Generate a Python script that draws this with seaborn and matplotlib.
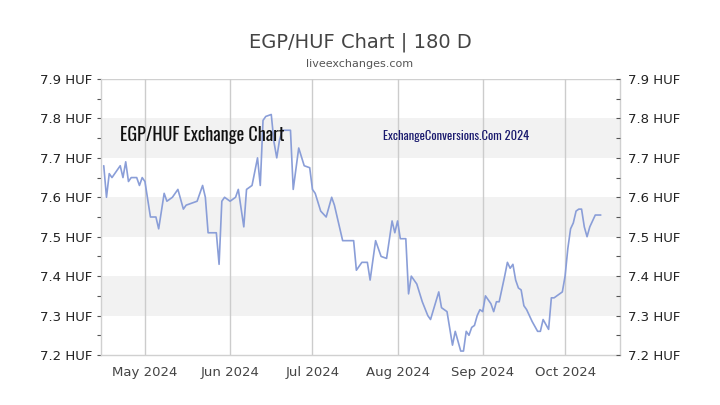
import numpy as np
import pandas as pd
import matplotlib
matplotlib.use("Agg")
import matplotlib.pyplot as plt
import matplotlib.dates as mdates
from matplotlib.ticker import MultipleLocator
import seaborn as sns

# ---- data ----
start_date = "2024-04-16"
day_offsets = [0, 1, 2, 3, 4, 6, 7, 8, 9, 10, 12, 13, 14, 15, 17, 19, 20, 22, 23, 25,
               27, 29, 30, 32, 34, 36, 37, 38, 41, 42, 43, 44, 46, 48, 49, 51, 52, 54, 56, 57,
               58, 59, 61, 62, 63, 64, 65, 68, 69, 71, 73, 75, 76, 77, 79, 81, 83, 84, 87, 89,
               91, 92, 94, 96, 97, 99, 101, 103, 105, 106, 107, 108, 110, 111, 112, 114, 116, 118, 119, 122,
               123, 125, 127, 128, 130, 131, 132, 133, 134, 135, 136, 137, 138, 139, 141, 142, 143, 144, 146, 147,
               148, 149, 150, 151, 152, 153, 154, 156, 158, 159, 160, 162, 163, 164, 166, 167, 168, 169, 170, 171,
               172, 173, 174, 175, 176, 177, 178, 179, 181]
rates = [7.68, 7.60, 7.66, 7.65, 7.66, 7.68, 7.65, 7.69, 7.64, 7.65, 7.65, 7.63, 7.65, 7.64, 7.55, 7.55, 7.52, 7.61, 7.59, 7.60,
         7.62, 7.57, 7.58, 7.585, 7.59, 7.63, 7.60, 7.51, 7.51, 7.43, 7.59, 7.60, 7.59, 7.60, 7.62, 7.525, 7.62, 7.63, 7.70, 7.63,
         7.795, 7.805, 7.81, 7.74, 7.70, 7.745, 7.77, 7.77, 7.62, 7.725, 7.68, 7.675, 7.62, 7.61, 7.565, 7.55, 7.60, 7.58, 7.49, 7.49,
         7.49, 7.415, 7.435, 7.435, 7.39, 7.49, 7.45, 7.445, 7.54, 7.51, 7.54, 7.495, 7.495, 7.355, 7.40, 7.38, 7.335, 7.30, 7.29, 7.36,
         7.32, 7.31, 7.225, 7.26, 7.21, 7.21, 7.26, 7.25, 7.27, 7.275, 7.30, 7.315, 7.31, 7.35, 7.33, 7.31, 7.335, 7.335, 7.40, 7.435,
         7.42, 7.43, 7.39, 7.37, 7.365, 7.325, 7.315, 7.285, 7.26, 7.26, 7.29, 7.265, 7.345, 7.345, 7.355, 7.36, 7.40, 7.47, 7.52, 7.535,
         7.565, 7.57, 7.57, 7.525, 7.50, 7.525, 7.54, 7.555, 7.555]
month_ticks = ["2024-05-01", "2024-06-01", "2024-07-01", "2024-08-01", "2024-09-01", "2024-10-01"]
month_labels = ["May 2024", "Jun 2024", "Jul 2024", "Aug 2024", "Sep 2024", "Oct 2024"]
y_ticks = [7.2, 7.3, 7.4, 7.5, 7.6, 7.7, 7.8, 7.9]
y_labels = ["7.2 HUF", "7.3 HUF", "7.4 HUF", "7.5 HUF", "7.6 HUF", "7.7 HUF", "7.8 HUF", "7.9 HUF"]

dates = pd.Timestamp(start_date) + pd.to_timedelta(day_offsets, unit="D")
df = pd.DataFrame({"date": dates, "rate": rates})

sns.set_style("white")
plt.rcParams["font.family"] = ["DejaVu Sans"]

fig = plt.figure(figsize=(7.2, 4.05), dpi=100)
ax = fig.add_axes([101 / 720, 1 - 355 / 405, (620 - 101) / 720, (355 - 79) / 405])

# alternating bands
for lo in [7.3, 7.5, 7.7]:
    ax.axhspan(lo, lo + 0.1, color="#f2f2f2", zorder=0, lw=0)
ax.axhline(7.9, color="#d0d0d0", lw=1, zorder=1)

sns.lineplot(data=df, x="date", y="rate", ax=ax, color="#8a9ed8", lw=1.2, zorder=3)

ax.set_xlim(pd.Timestamp("2024-04-15"), pd.Timestamp("2024-10-21"))
ax.set_ylim(7.2, 7.9)

mt = [mdates.date2num(pd.Timestamp(d)) for d in month_ticks]
for m in mt:
    ax.axvline(m, color="#cccccc", lw=1, zorder=1)
ax.set_xticks(mt)
ax.set_xticklabels(month_labels, fontsize=9.5, color="#444444")
ax.tick_params(axis="x", length=0, pad=8)

ax.set_yticks(y_ticks)
ax.set_yticklabels(y_labels, fontsize=9.5, color="#222222")
ax.yaxis.set_minor_locator(MultipleLocator(0.05))
ax.tick_params(axis="y", which="both", direction="out", length=3, width=0.8, color="#555555", pad=3)
ax.set_xlabel("")
ax.set_ylabel("")

for s in ["left", "bottom", "right"]:
    ax.spines[s].set_color("#d0d0d0")
    ax.spines[s].set_linewidth(1)
ax.spines["top"].set_visible(False)

ax2 = ax.twinx()
ax2.set_ylim(7.2, 7.9)
ax2.set_yticks(y_ticks)
ax2.set_yticklabels(y_labels, fontsize=9.5, color="#222222")
ax2.yaxis.set_minor_locator(MultipleLocator(0.05))
ax2.tick_params(axis="y", which="both", direction="in", length=3, width=0.8, color="#555555", pad=6)
for s in ax2.spines.values():
    s.set_visible(False)

fig.text(0.5, 1 - 42 / 405, "EGP/HUF Chart | 180 D", ha="center", va="center",
         fontsize=14, color="#444444")
fig.text(0.5, 1 - 64 / 405, "liveexchanges.com", ha="center", va="center",
         fontsize=8, color="#555555")

fig.text(120 / 720, 1 - 135 / 405, "EGP/HUF Exchange Chart", ha="left", va="center",
         fontsize=13, family=["Oswald", "DejaVu Sans"], fontweight="bold",
         color="#111111", zorder=5)
fig.text(383 / 720, 1 - 136 / 405, "ExchangeConversions.Com 2024", ha="left", va="center",
         fontsize=9, family=["Oswald", "DejaVu Sans"],
         color="#1a1a6e", zorder=5)

fig.savefig("out.png", dpi=100)
